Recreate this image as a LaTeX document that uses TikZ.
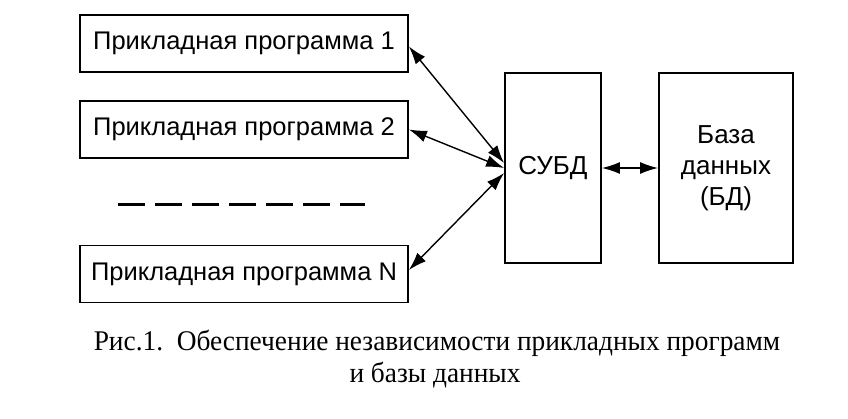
\documentclass[tikz,border=0pt]{standalone}
\usepackage{fontspec}
\setmainfont{Liberation Serif}
\newfontfamily\boxfont{Liberation Sans}
\usetikzlibrary{arrows.meta}
\begin{document}
\begin{tikzpicture}[x=1pt,y=1pt,
  prog/.style={draw,line width=1.8pt,minimum width=328pt,minimum height=57pt,inner sep=0pt,font=\boxfont\fontsize{25.5}{30}\selectfont},
  tallbox/.style={draw,line width=1.8pt,minimum height=190pt,inner sep=0pt,font=\boxfont\fontsize{26}{31}\selectfont,align=center},
  link/.style={line width=1.4pt,{Latex[length=18pt,width=12pt]}-{Latex[length=18pt,width=12pt]}},
  captext/.style={font=\fontsize{28.5}{32}\selectfont,inner sep=0pt}
]
\useasboundingbox[fill=white] (0,0) rectangle (848,418);
\node[prog] (p1) at (244,374.5) {Прикладная программа 1};
\node[prog] (p2) at (244,288.5) {Прикладная программа 2};
\node[prog] (pn) at (244,144) {Прикладная программа N};
\node[tallbox,minimum width=96pt] (dbms) at (553,250) {СУБД};
\node[tallbox,minimum width=134pt] (db) at (726,250) {База\\данных\\(БД)};
\coordinate (d1) at (118,213);
\coordinate (d2) at (365,213);
\draw[line width=3pt,dash pattern=on 27pt off 10pt] (d1) -- (d2);
\draw[link] ([yshift=-3pt]p1.east) -- ([yshift=5pt]dbms.west);
\draw[link] (p2.east) -- (dbms.west);
\draw[link] ([yshift=4pt]pn.east) -- ([yshift=-5pt]dbms.west);
\draw[link] (dbms.east) -- (db.west);
\node[captext,anchor=base,xscale=0.96] (c1) at (437,68) {Рис.1.\hspace{0.5em}Обеспечение независимости прикладных программ};
\node[captext,anchor=base,xscale=0.96] (c2) at (435,36) {и базы данных};
\end{tikzpicture}
\end{document}
